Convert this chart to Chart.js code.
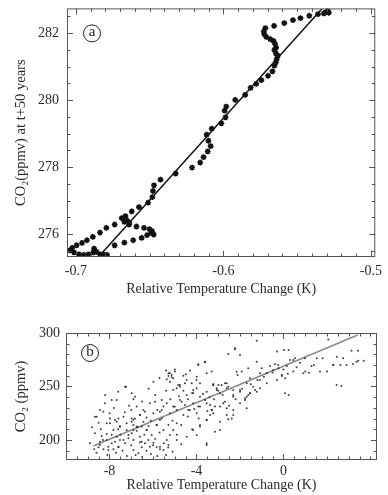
<!DOCTYPE html>
<html>
<head>
<meta charset="utf-8">
<script src="https://cdn.jsdelivr.net/npm/chart.js@4.4.1/dist/chart.umd.min.js"></script>
<style>
  html, body { margin: 0; padding: 0; background: #fff; overflow: hidden; }
  #wrap { position: relative; width: 388px; height: 495px; overflow: hidden; }
  .box { position: absolute; left: 0; width: 388px; }
</style>
</head>
<body>
<div id="wrap">
  <div class="box" style="top:-8px;height:308px"><canvas id="topChart"></canvas></div>
  <div class="box" style="top:300px;height:195px"><canvas id="bottomChart"></canvas></div>
</div>
<script>
// Panel (a): temperatura relativa vs CO2 a t+50 años
const aTemp = [-0.5291, -0.5307, -0.5285, -0.5318, -0.5358, -0.5417, -0.5477, -0.5528, -0.5587, -0.5656,
  -0.5715, -0.5726, -0.5722, -0.5709, -0.5682, -0.5660, -0.5649, -0.5642, -0.5654, -0.5644,
  -0.5631, -0.5638, -0.5644, -0.5654, -0.5667, -0.5697, -0.5742, -0.5777, -0.5815, -0.5852,
  -0.5919, -0.5980, -0.5991, -0.5985, -0.6013, -0.6079, -0.6113, -0.6101, -0.6086, -0.6106,
  -0.6134, -0.6157, -0.6212, -0.6323, -0.6426, -0.6470, -0.6477, -0.6481, -0.6510, -0.6572,
  -0.6621, -0.6664, -0.6656, -0.6638, -0.6671, -0.6689, -0.6737, -0.6793, -0.6836, -0.6885,
  -0.6925, -0.6958, -0.6995, -0.7025, -0.7040, -0.7013, -0.6980, -0.6947, -0.6914, -0.6881,
  -0.6876, -0.6859, -0.6836, -0.6815, -0.6788, -0.6737, -0.6671, -0.6611, -0.6554, -0.6517,
  -0.6488, -0.6472, -0.6483, -0.6501, -0.6538, -0.6589, -0.6638];
const aCO2 = [282.67, 282.62, 282.61, 282.59, 282.57, 282.52, 282.45, 282.39, 282.30, 282.22,
  282.15, 282.05, 281.97, 281.89, 281.82, 281.77, 281.68, 281.57, 281.50, 281.40,
  281.33, 281.23, 281.13, 281.03, 280.86, 280.73, 280.60, 280.49, 280.37, 280.16,
  280.01, 279.81, 279.69, 279.49, 279.31, 279.15, 278.97, 278.79, 278.63, 278.47,
  278.30, 278.14, 277.99, 277.81, 277.63, 277.46, 277.29, 277.11, 276.94, 276.81,
  276.68, 276.54, 276.42, 276.35, 276.37, 276.48, 276.29, 276.19, 276.05, 275.92,
  275.82, 275.74, 275.67, 275.59, 275.52, 275.46, 275.40, 275.38, 275.40, 275.46,
  275.57, 275.47, 275.40, 275.40, 275.38, 275.67, 275.75, 275.82, 275.89, 275.97,
  276.04, 275.99, 276.09, 276.15, 276.19, 276.23, 276.29];
const aFitTemp = [-0.6841, -0.5331];
const aFitCO2 = [275.35, 282.73];
const aXLabels = [-0.7, -0.6, -0.5];
const aYLabels = [276, 278, 280, 282];

// Panel (b): nube de puntos y recta de ajuste
const bTemp = [-2.23, -3.92, -3.61, -1.23, 0.02, 2.06, 3.13, 3.44, 0.30, 1.53,
  2.29, 2.45, -1.08, -1.54, -2.15, -2.69, -3.23, -3.53, -3.99, -4.53,
  -4.84, -3.61, -3.92, -5.22, -5.29, -5.14, -5.37, -4.99, -5.22, -4.48,
  -5.98, -7.24, -7.90, -8.28, -8.59, -8.67, -7.98, -7.75, -7.59, -7.52,
  -7.21, -6.98, -6.83, -6.60, -6.37, -6.14, -5.91, -5.60, -5.52, -5.68,
  -5.83, -5.52, -6.29, -6.60, -6.90, -7.36, -7.67, -8.13, -8.44, -8.05,
  -7.59, -7.13, -6.75, -6.44, -5.07, -4.91, -4.76, -4.22, -3.99, -3.84,
  -4.15, -4.45, -4.68, -4.91, -5.22, -4.60, -4.30, -3.92, -3.53, -3.30,
  -3.15, -3.53, -3.84, -4.15, -3.53, -4.45, -4.91, -5.29, -5.68, -6.14,
  -6.52, -3.23, -3.07, -3.30, -8.70, -8.51, -8.44, -8.28, -8.05, -7.82,
  -7.59, -7.75, -7.52, -7.29, -7.13, -6.98, -6.75, -6.90, -6.67, -6.52,
  -6.37, -6.21, -5.98, -5.83, -5.68, -5.52, -6.06, -6.29, -6.52, -6.90,
  -7.21, -7.52, -7.82, -8.13, -8.36, -8.13, -7.98, -7.67, -7.36, -6.98,
  -6.60, -6.44, -6.75, -6.98, -7.29, -6.83, -7.67, -8.21, -8.44, -8.67,
  -5.37, -5.22, -5.07, -5.29, -4.91, -5.68, -5.83, -5.98, -5.60, -5.37,
  -5.07, -4.76, -4.53, -4.38, -4.15, -3.99, -3.84, -3.61, -3.38, -3.23,
  -3.53, -3.84, -3.99, -3.53, -3.15, -2.92, -2.61, -2.31, -2.00, -1.77,
  -1.54, -1.39, -1.69, -2.00, -2.31, -2.61, -2.92, -3.23, -3.53, -3.84,
  -4.15, -4.45, -4.76, -5.07, -5.29, -5.14, -1.08, -0.77, -0.47, -0.24,
  0.07, -0.08, 0.45, 0.91, 1.68, 2.29, 2.44, 2.90, 3.36, -2.54,
  -2.00, -2.23, -0.29, 0.24, -1.23, -1.92, -2.11, -1.62, -1.00, -0.62,
  -0.39, -0.23, 0.00, 0.15, 0.45, 0.53, 0.76, 0.99, 1.29, 1.17,
  1.80, 2.00, 2.62, 2.74, 3.19, 3.42, 3.69, 2.66, 0.24, -0.07,
  0.08, -0.77, -1.08, -1.31, -1.62, -1.69, -2.00, -2.31, -2.61, -2.84,
  -2.99, -3.07, -2.54, -2.69, -2.77, -2.92, -2.61, -2.31, -2.31, -2.38,
  -2.54, -2.92, -1.69, -1.77, -1.54, -1.23, -3.38, -3.30,
  -8.9, -8.6, -8.3, -8.1, -7.9, -7.7, -7.5, -7.4, -7.2, -7.0,
  -6.9, -6.8, -6.6, -6.5, -6.3, -6.2, -6.1, -5.9, -5.8, -5.7,
  -5.5, -5.4, -5.3, -5.1, -4.9, -4.7, -8.8, -8.5, -8.0, -7.8,
  -7.6, -7.3, -7.1, -6.9, -6.7, -6.5, -6.3, -6.1, -5.9, -5.8,
  -5.6, -5.4, -5.2, -5.0, -4.8, -4.6, -4.4, -4.2, -4.1, -3.9,
  -3.7, -3.5, -3.4, -3.2, -3.0, -2.8, -2.5, -2.2, -1.9, -1.5,
  -1.2, -0.9, -0.5, -0.3, 0.2, 0.6, 1.0, 1.4, -6.2, -5.7,
  -5.4, -5.0, -4.6, -4.3, -4.0, -7.6, -8.2, -6.9, -7.0, -8.4,
  -7.9, -6.4, -6.0, -5.1, -4.4, -4.7, -4.2];
const bCO2 = [285.7, 270.7, 272.6, 292.8, 284.0, 294.0, 283.5, 274.0, 274.8, 276.4,
  270.1, 277.9, 262.3, 257.7, 263.8, 253.0, 252.3, 262.3, 259.2, 253.0,
  251.4, 273.2, 270.1, 262.3, 259.8, 258.6, 256.7, 263.9, 254.5, 261.4,
  254.5, 249.8, 237.4, 226.5, 221.8, 206.2, 215.6, 218.7, 220.2, 212.5,
  209.3, 217.1, 220.2, 223.4, 226.5, 234.3, 235.8, 237.4, 231.2, 226.5,
  214.0, 209.3, 209.3, 203.1, 200.0, 200.0, 203.1, 200.0, 195.3, 193.8,
  193.8, 204.7, 212.5, 217.1, 246.7, 248.3, 251.4, 253.0, 248.3, 240.5,
  243.6, 242.1, 235.8, 228.0, 224.9, 223.4, 228.0, 231.2, 234.3, 228.0,
  231.2, 218.7, 214.0, 209.3, 195.3, 203.1, 200.0, 195.3, 193.8, 193.8,
  198.4, 251.4, 248.3, 263.9, 191.3, 193.1, 198.4, 191.3, 190.7, 191.3,
  193.1, 198.4, 200.0, 196.9, 201.6, 206.2, 208.7, 190.7, 187.5, 193.1,
  196.9, 200.0, 197.5, 193.1, 191.3, 190.7, 204.7, 209.3, 212.5, 214.0,
  215.6, 212.5, 209.3, 205.6, 203.7, 215.6, 220.2, 217.1, 221.8, 220.2,
  223.4, 228.0, 231.2, 243.6, 249.8, 240.5, 237.4, 234.3, 228.0, 221.8,
  200.0, 204.7, 209.3, 214.0, 215.6, 218.7, 214.0, 224.9, 228.0, 234.3,
  231.2, 237.4, 232.7, 228.0, 234.3, 224.9, 231.2, 237.4, 232.7, 224.9,
  218.7, 212.5, 204.7, 196.9, 207.8, 217.1, 223.4, 228.0, 234.3, 238.9,
  243.6, 249.8, 253.0, 246.7, 242.1, 248.3, 243.6, 251.4, 245.2, 253.0,
  246.7, 256.1, 249.8, 257.6, 262.3, 260.7, 256.1, 262.3, 265.4, 270.1,
  243.6, 260.7, 263.9, 262.3, 263.9, 270.1, 251.4, 270.1, 273.2, 280.4,
  279.4, 284.7, 282.6, 284.1, 273.2, 263.9, 260.7, 267.0, 267.0, 269.2,
  271.0, 267.0, 266.0, 269.2, 274.8, 276.3, 272.3, 276.3, 269.2, 262.9,
  276.3, 263.9, 270.1, 276.3, 271.0, 283.5, 274.1, 250.5, 242.1, 259.8,
  257.6, 253.0, 248.3, 246.7, 242.1, 240.5, 245.2, 246.7, 253.0, 251.4,
  251.4, 246.7, 249.8, 235.8, 234.3, 231.2, 229.6, 240.5, 223.4, 220.2,
  219.3, 209.3, 229.6, 237.4, 243.6, 245.2, 223.4, 228.0,
  197, 188, 200, 186, 197, 188, 205, 190, 185, 195,
  209, 186, 198, 184, 190, 213, 187, 201, 185, 207,
  197, 186, 193, 189, 205, 196, 212, 216, 225, 230,
  210, 226, 232, 219, 212, 236, 221, 218, 242, 228,
  220, 246, 238, 231, 241, 246, 238, 244, 229, 220,
  243, 227, 240, 238, 246, 242, 232, 238, 248, 252,
  256, 259, 263, 256, 262, 268, 264, 270, 248, 258,
  265, 266, 260, 265, 256, 245, 242, 238, 228, 210,
  205, 205, 195, 218, 222, 214, 210];
const bFitTemp = [-8.74, 3.41];
const bFitCO2 = [194.4, 298.1];
const bXLabels = [-8, -4, 0];
const bYLabels = [200, 250, 300];

const serif = "'Liberation Serif', 'DejaVu Serif', serif";
const textColor = '#2a2a2a';

function toPoints(xs, ys) {
    return xs.map((x, i) => ({ x: x, y: ys[i] }));
}

// marcas menores cada "step" dentro del rango del eje
function minorTicks(step) {
    return function(scale) {
        const ticks = [];
        const start = Math.ceil(scale.min / step - 1e-9);
        const end = Math.floor(scale.max / step + 1e-9);
        for (let k = start; k <= end; k++) {
            ticks.push({ value: Math.round(k * step * 1000) / 1000 });
        }
        scale.ticks = ticks;
    };
}

function labelIn(list, digits) {
    return function(v) {
        const hit = list.find(l => Math.abs(l - v) < 1e-6);
        return hit === undefined ? '' : hit.toFixed(digits);
    };
}

// Marco con marcas hacia dentro en los cuatro lados + etiqueta circular
const frameTicks = {
    id: 'frameTicks',
    afterDraw(chart, args, opts) {
        const { ctx, chartArea: a, scales } = chart;
        ctx.save();
        ctx.strokeStyle = '#555';
        ctx.lineWidth = 1;
        ctx.strokeRect(a.left + 0.5, a.top + 0.5, a.width - 1, a.height - 1);
        ctx.beginPath();
        scales.x.ticks.forEach(t => {
            const p = Math.round(scales.x.getPixelForValue(t.value)) + 0.5;
            if (p <= a.left + 1 || p >= a.right - 1) return;
            const len = t.label ? 6 : 3.5;
            ctx.moveTo(p, a.bottom); ctx.lineTo(p, a.bottom - len);
            ctx.moveTo(p, a.top); ctx.lineTo(p, a.top + len);
        });
        scales.y.ticks.forEach(t => {
            const p = Math.round(scales.y.getPixelForValue(t.value)) + 0.5;
            if (p <= a.top + 1 || p >= a.bottom - 1) return;
            const len = t.label ? 6 : 3.5;
            ctx.moveTo(a.left, p); ctx.lineTo(a.left + len, p);
            ctx.moveTo(a.right, p); ctx.lineTo(a.right - len, p);
        });
        ctx.stroke();

        // etiqueta (a) / (b)
        const cx = a.left + opts.dx, cy = a.top + opts.dy;
        ctx.beginPath();
        ctx.strokeStyle = '#222';
        ctx.arc(cx, cy, 8.5, 0, Math.PI * 2);
        ctx.stroke();
        ctx.fillStyle = '#222';
        ctx.font = '15px ' + serif;
        ctx.textAlign = 'center';
        ctx.textBaseline = 'middle';
        ctx.fillText(opts.letter, cx, cy - 1);
        ctx.restore();
    }
};

Chart.defaults.font.family = serif;
Chart.defaults.color = textColor;

new Chart(document.getElementById('topChart'), {
    type: 'scatter',
    data: {
        datasets: [{
            data: toPoints(aTemp, aCO2),
            pointStyle: 'star',
            pointRadius: 2.9,
            borderColor: '#111',
            backgroundColor: '#111',
            pointBorderWidth: 1.6
        }, {
            data: toPoints(aFitTemp, aFitCO2),
            showLine: true,
            pointRadius: 0,
            borderColor: '#111',
            borderWidth: 1.5
        }]
    },
    options: {
        responsive: true,
        maintainAspectRatio: false,
        animation: false,
        layout: { autoPadding: false, padding: { left: 0, right: 7, top: 0, bottom: 0 } },
        plugins: {
            legend: { display: false },
            tooltip: { enabled: false },
            frameTicks: { letter: 'a', dx: 25, dy: 25 }
        },
        scales: {
            x: {
                type: 'linear',
                min: -0.706,
                max: -0.497,
                grid: { display: false, drawTicks: false },
                border: { display: false },
                afterFit: function(scale) { scale.height = 43; },
                afterBuildTicks: minorTicks(0.01),
                ticks: {
                    autoSkip: false,
                    maxRotation: 0,
                    padding: 6,
                    font: { size: 14 },
                    callback: labelIn(aXLabels, 1)
                },
                title: {
                    display: true,
                    text: 'Relative Temperature Change (K)',
                    font: { size: 14 },
                    padding: { top: 0, bottom: 2 }
                }
            },
            y: {
                min: 275.32,
                max: 282.74,
                grid: { display: false, drawTicks: false },
                border: { display: false },
                afterFit: function(scale) { scale.width = 67; },
                afterBuildTicks: minorTicks(0.5),
                ticks: {
                    autoSkip: false,
                    padding: 8,
                    font: { size: 14 },
                    callback: labelIn(aYLabels, 0)
                },
                title: {
                    display: true,
                    text: 'CO₂(ppmv) at t+50 years',
                    font: { size: 14.5 },
                    padding: { top: 12, bottom: 0 }
                }
            }
        }
    },
    plugins: [frameTicks]
});

new Chart(document.getElementById('bottomChart'), {
    type: 'scatter',
    data: {
        datasets: [{
            data: toPoints(bTemp, bCO2),
            pointStyle: 'circle',
            pointRadius: 1,
            borderWidth: 0,
            backgroundColor: 'rgba(30,30,30,0.85)'
        }, {
            data: toPoints(bFitTemp, bFitCO2),
            showLine: true,
            pointRadius: 0,
            borderColor: '#8a8a8a',
            borderWidth: 1.6
        }]
    },
    options: {
        responsive: true,
        maintainAspectRatio: false,
        animation: false,
        layout: { autoPadding: false, padding: { left: 0, right: 11, top: 33, bottom: 0 } },
        plugins: {
            legend: { display: false },
            tooltip: { enabled: false },
            frameTicks: { letter: 'b', dx: 24, dy: 20 }
        },
        scales: {
            x: {
                type: 'linear',
                min: -10,
                max: 4.3,
                grid: { display: false, drawTicks: false },
                border: { display: false },
                afterFit: function(scale) { scale.height = 35; },
                afterBuildTicks: minorTicks(0.5),
                ticks: {
                    autoSkip: false,
                    maxRotation: 0,
                    padding: 3,
                    font: { size: 14 },
                    callback: labelIn(bXLabels, 0)
                },
                title: {
                    display: true,
                    text: 'Relative Temperature Change (K)',
                    font: { size: 14 },
                    padding: { top: 0, bottom: 1 }
                }
            },
            y: {
                min: 181.3,
                max: 300,
                grid: { display: false, drawTicks: false },
                border: { display: false },
                afterFit: function(scale) { scale.width = 66; },
                afterBuildTicks: minorTicks(10),
                ticks: {
                    autoSkip: false,
                    padding: 6,
                    font: { size: 14 },
                    callback: labelIn(bYLabels, 0)
                },
                title: {
                    display: true,
                    text: 'CO₂ (ppmv)',
                    font: { size: 14.5 },
                    padding: { top: 12, bottom: 0 }
                }
            }
        }
    },
    plugins: [frameTicks]
});
</script>
</body>
</html>
